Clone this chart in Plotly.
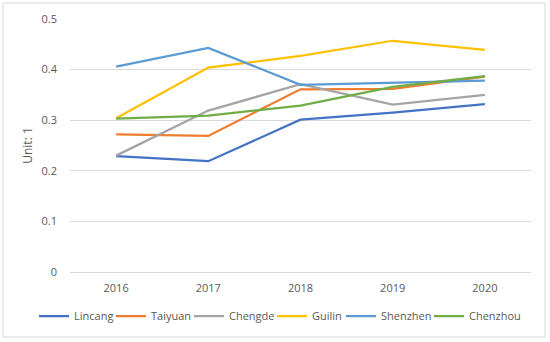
import plotly.graph_objects as go

years = ["2016", "2017", "2018", "2019", "2020"]
lincang = [0.229, 0.219, 0.301, 0.315, 0.332]
taiyuan = [0.272, 0.269, 0.361, 0.362, 0.386]
chengde = [0.230, 0.319, 0.371, 0.331, 0.350]
guilin = [0.304, 0.404, 0.427, 0.457, 0.439]
shenzhen = [0.406, 0.443, 0.370, 0.374, 0.378]
chenzhou = [0.303, 0.309, 0.329, 0.366, 0.387]

series = [
    ("Lincang", lincang, "#4472C4"),
    ("Taiyuan", taiyuan, "#ED7D31"),
    ("Chengde", chengde, "#A5A5A5"),
    ("Guilin", guilin, "#FFC000"),
    ("Shenzhen", shenzhen, "#5B9BD5"),
    ("Chenzhou", chenzhou, "#70AD47"),
]

W, H = 550, 342
ml, mr, mt, mb = 70, 19, 19, 70
pw, ph = W - ml - mr, H - mt - mb

# legend entry line-start pixel positions
leg_px = [39, 116, 194, 277, 346, 434]
leg_names = ["legend", "legend2", "legend3", "legend4", "legend5", "legend6"]

fig = go.Figure()
for (name, vals, color), lg in zip(series, leg_names):
    fig.add_trace(go.Scatter(x=years, y=vals, name=name, mode="lines",
                             line=dict(color=color, width=2.25), legend=lg))

legend_y = -(316 - (mt + ph)) / ph
legends = {}
for lg, px in zip(leg_names, leg_px):
    legends[lg] = dict(orientation="h", x=(px - 5 - ml) / pw, xanchor="left",
                       y=legend_y, yanchor="middle",
                       font=dict(size=11, color="#595959"),
                       bgcolor="rgba(0,0,0,0)", itemwidth=30)

fig.update_layout(
    width=W, height=H,
    margin=dict(l=ml, r=mr, t=mt, b=mb, autoexpand=False),
    paper_bgcolor="white", plot_bgcolor="white",
    font=dict(family="Open Sans, Liberation Sans, sans-serif", size=11, color="#595959"),
    xaxis=dict(type="category", range=[-0.5, 4.5], showgrid=False, zeroline=False,
               showline=False, ticks="", tickfont=dict(size=11, color="#595959"),
               ticklabelstandoff=8),
    yaxis=dict(range=[0, 0.5], dtick=0.1, tick0=0, showgrid=True, gridcolor="#D9D9D9",
               gridwidth=1, griddash="solid", zeroline=True, zerolinecolor="#D9D9D9",
               zerolinewidth=1, showline=False, ticks="", tickformat="~g",
               tickfont=dict(size=11, color="#595959"), ticklabelstandoff=12,
               title=dict(text="Unit: 1", font=dict(size=12, color="#595959"), standoff=6)),
    showlegend=True,
    hovermode=False,
    **legends,
)

# outer chart border
fig.add_shape(type="rect", xref="paper", yref="paper",
              x0=(3 - ml) / pw, x1=(545 - ml) / pw,
              y0=-(337 - (mt + ph)) / ph, y1=(mt + ph - 3) / ph,
              line=dict(color="#D9D9D9", width=1), fillcolor="rgba(0,0,0,0)",
              layer="above")

fig.write_html("out.html", config={"displayModeBar": False},
               post_script="document.body.style.margin='0';document.body.style.padding='0';")
